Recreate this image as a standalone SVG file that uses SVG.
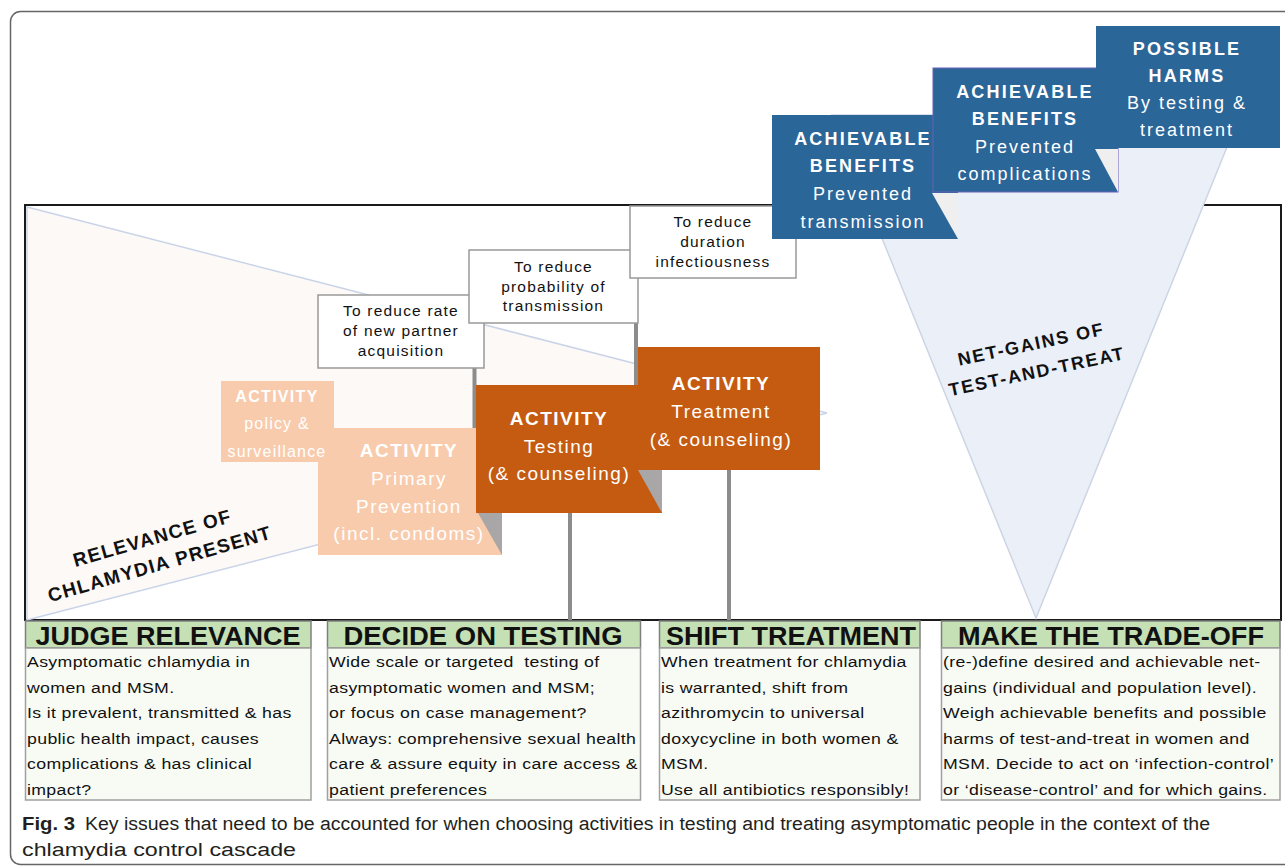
<svg xmlns="http://www.w3.org/2000/svg" width="1285" height="868" viewBox="0 0 1285 868">
<style>
text{font-family:"Liberation Sans",Arial,sans-serif}
.wbx{fill:#fff;stroke:#999;stroke-width:1.5}
.wt{font-size:15.5px;fill:#111;letter-spacing:1.2px;text-anchor:middle}
.peach{fill:#f8cbad}
.dark{fill:#c55a11}
.blue{fill:#2b6699}
.shadow{fill:#a8a6a6}
.lshadow{fill:#efefef}
.ab{font-size:19px;font-weight:bold;fill:#fff;letter-spacing:1.5px;text-anchor:middle}
.ar{font-size:19px;fill:#fff;letter-spacing:1.5px;text-anchor:middle}
.pb{font-size:16px;font-weight:bold;fill:#fff;letter-spacing:1.3px;text-anchor:middle}
.pr{font-size:16px;fill:#fff;letter-spacing:1.2px;text-anchor:middle}
.bb{font-size:18px;font-weight:bold;fill:#fff;letter-spacing:2.2px;text-anchor:middle}
.br{font-size:18px;fill:#fff;letter-spacing:2px;text-anchor:middle}
.hdr{fill:#c5e0b4;stroke:#7f7f7f;stroke-width:1.5}
.ht{font-size:26px;font-weight:bold;fill:#111;text-anchor:middle}
.body{fill:#f8fbf4;stroke:#a0a0a0;stroke-width:1.5}
.bt{font-size:15px;fill:#111;letter-spacing:0.3px;white-space:pre}
.rot{font-size:19px;font-weight:bold;fill:#111;letter-spacing:1.4px;text-anchor:middle}
.rot2{font-size:18px;font-weight:bold;fill:#111;letter-spacing:1.8px;text-anchor:middle}
.conn{stroke:#8c8c8c;stroke-width:4;fill:none}
.cap{font-size:18px;fill:#231f20}
</style>

<!-- outer frame -->
<rect x="10.5" y="11.5" width="1290" height="853" rx="10" fill="#fff" stroke="#666" stroke-width="1.5"/>

<!-- main panel -->
<rect x="25" y="205" width="1256" height="415" fill="#fff" stroke="#1a1a1a" stroke-width="2"/>

<!-- relevance triangle -->
<g id="relevance">
<polygon points="27,207 827,413 27,620" fill="#fdf9f6" stroke="#c9d4e8" stroke-width="1.5"/>
<g transform="translate(156,551) rotate(-16)">
<text class="rot" x="0" y="-7">RELEVANCE OF</text>
<text class="rot" x="0" y="20">CHLAMYDIA PRESENT</text>
</g>
</g>

<!-- net gains triangle -->
<g id="netgains">
<polygon points="832,115 1240,115 1036,618" fill="#eaeff8" stroke="#cdd5e5" stroke-width="1.5"/>
<g transform="translate(1034,358) rotate(-12)">
<text class="rot2" x="0" y="-8">NET-GAINS OF</text>
<text class="rot2" x="0" y="20">TEST-AND-TREAT</text>
</g>
</g>

<!-- connectors -->
<g id="connectors">
<line class="conn" x1="474.5" y1="368" x2="474.5" y2="432"/>
<line class="conn" x1="636" y1="323" x2="636" y2="387"/>
<line class="conn" x1="570" y1="512" x2="570" y2="620"/>
<line class="conn" x1="729" y1="469" x2="729" y2="620"/>
</g>

<!-- goal boxes -->
<g id="goal-partner">
<rect class="wbx" x="318" y="295" width="166" height="73"/>
<text class="wt" x="401" y="316">To reduce rate</text>
<text class="wt" x="401" y="336">of new partner</text>
<text class="wt" x="401" y="356">acquisition</text>
</g>
<g id="goal-transmission">
<rect class="wbx" x="469" y="250" width="169" height="73"/>
<text class="wt" x="553.5" y="272">To reduce</text>
<text class="wt" x="553.5" y="292">probability of</text>
<text class="wt" x="553.5" y="311">transmission</text>
</g>
<g id="goal-duration">
<rect class="wbx" x="630" y="206" width="166" height="72"/>
<text class="wt" x="713" y="227">To reduce</text>
<text class="wt" x="713" y="247">duration</text>
<text class="wt" x="713" y="267">infectiousness</text>
</g>

<!-- activity boxes -->
<g id="act-prevention">
<rect class="peach" x="318" y="428" width="184" height="127"/>
<polygon class="shadow" points="478,513 502,513 502,555"/>
<text class="ab" x="409" y="457">ACTIVITY</text>
<text class="ar" x="409" y="485">Primary</text>
<text class="ar" x="409" y="513">Prevention</text>
<text class="ar" x="409" y="540">(incl. condoms)</text>
</g>
<g id="act-policy">
<rect class="peach" x="221" y="381" width="113" height="81"/>
<text class="pb" x="277" y="402">ACTIVITY</text>
<text class="pr" x="277" y="429">policy &amp;</text>
<text class="pr" x="277" y="457">surveillance</text>
</g>
<g id="act-testing">
<rect class="dark" x="476" y="385" width="186" height="128"/>
<polygon class="shadow" points="638,470 662,470 662,513"/>
<text class="ab" x="559" y="425">ACTIVITY</text>
<text class="ar" x="559" y="453">Testing</text>
<text class="ar" x="559" y="480">(&amp; counseling)</text>
</g>
<g id="act-treatment">
<rect class="dark" x="638" y="347" width="182" height="123"/>
<text class="ab" x="721" y="390">ACTIVITY</text>
<text class="ar" x="721" y="418">Treatment</text>
<text class="ar" x="721" y="446">(&amp; counseling)</text>
</g>

<!-- benefit / harm boxes -->
<g id="benefit-transmission">
<rect class="blue" x="772" y="115" width="186" height="124"/>
<polygon class="lshadow" points="932,193 958,193 958,239"/>
<text class="bb" x="863" y="145">ACHIEVABLE</text>
<text class="bb" x="863" y="172">BENEFITS</text>
<text class="br" x="863" y="200">Prevented</text>
<text class="br" x="863" y="228">transmission</text>
</g>
<g id="benefit-complications">
<rect class="blue" x="933" y="68" width="185" height="124" stroke="#6a5fb8" stroke-width="1"/>
<polygon class="lshadow" points="1095,149 1118,149 1118,192"/>
<text class="bb" x="1025" y="98">ACHIEVABLE</text>
<text class="bb" x="1025" y="125">BENEFITS</text>
<text class="br" x="1025" y="153">Prevented</text>
<text class="br" x="1025" y="180">complications</text>
</g>
<g id="harms">
<rect class="blue" x="1096" y="26" width="184" height="122"/>
<text class="bb" x="1187" y="55">POSSIBLE</text>
<text class="bb" x="1187" y="82">HARMS</text>
<text class="br" x="1187" y="109">By testing &amp;</text>
<text class="br" x="1187" y="136">treatment</text>
</g>

<!-- bottom sections -->
<g id="judge">
<rect class="hdr" x="25.5" y="621" width="285.5" height="27"/>
<rect class="body" x="25.5" y="648" width="285.5" height="152"/>
<text class="ht" x="168" y="645" textLength="265" lengthAdjust="spacingAndGlyphs">JUDGE RELEVANCE</text>
<text class="bt" transform="translate(27,667) scale(1.18,1)">Asymptomatic chlamydia in</text>
<text class="bt" transform="translate(27,693) scale(1.18,1)">women and MSM.</text>
<text class="bt" transform="translate(27,718) scale(1.18,1)">Is it prevalent, transmitted &amp; has</text>
<text class="bt" transform="translate(27,744) scale(1.18,1)">public health impact, causes</text>
<text class="bt" transform="translate(27,769) scale(1.18,1)">complications &amp; has clinical</text>
<text class="bt" transform="translate(27,795) scale(1.18,1)">impact?</text>
</g>
<g id="decide">
<rect class="hdr" x="327.5" y="621" width="313" height="27"/>
<rect class="body" x="327.5" y="648" width="313" height="152"/>
<text class="ht" x="483" y="645" textLength="279" lengthAdjust="spacingAndGlyphs">DECIDE ON TESTING</text>
<text class="bt" transform="translate(329,667) scale(1.18,1)" xml:space="preserve">Wide scale or targeted  testing of</text>
<text class="bt" transform="translate(329,693) scale(1.18,1)">asymptomatic women and MSM;</text>
<text class="bt" transform="translate(329,718) scale(1.18,1)">or focus on case management?</text>
<text class="bt" transform="translate(329,744) scale(1.18,1)">Always: comprehensive sexual health</text>
<text class="bt" transform="translate(329,769) scale(1.18,1)">care &amp; assure equity in care access &amp;</text>
<text class="bt" transform="translate(329,795) scale(1.18,1)">patient preferences</text>
</g>
<g id="shift">
<rect class="hdr" x="659.5" y="621" width="260.5" height="27"/>
<rect class="body" x="659.5" y="648" width="260.5" height="152"/>
<text class="ht" x="791" y="645" textLength="250" lengthAdjust="spacingAndGlyphs">SHIFT TREATMENT</text>
<text class="bt" transform="translate(661,667) scale(1.18,1)">When treatment for chlamydia</text>
<text class="bt" transform="translate(661,693) scale(1.18,1)">is warranted, shift from</text>
<text class="bt" transform="translate(661,718) scale(1.18,1)">azithromycin to universal</text>
<text class="bt" transform="translate(661,744) scale(1.18,1)">doxycycline in both women &amp;</text>
<text class="bt" transform="translate(661,769) scale(1.18,1)">MSM.</text>
<text class="bt" transform="translate(661,795) scale(1.18,1)">Use all antibiotics responsibly!</text>
</g>
<g id="tradeoff">
<rect class="hdr" x="941.5" y="621" width="338.5" height="27"/>
<rect class="body" x="941.5" y="648" width="338.5" height="152"/>
<text class="ht" x="1111" y="645" textLength="306" lengthAdjust="spacingAndGlyphs">MAKE THE TRADE-OFF</text>
<text class="bt" transform="translate(943,667) scale(1.18,1)">(re-)define desired and achievable net-</text>
<text class="bt" transform="translate(943,693) scale(1.18,1)">gains (individual and population level).</text>
<text class="bt" transform="translate(943,718) scale(1.18,1)">Weigh achievable benefits and possible</text>
<text class="bt" transform="translate(943,744) scale(1.18,1)">harms of test-and-treat in women and</text>
<text class="bt" transform="translate(943,769) scale(1.18,1)">MSM. Decide to act on ‘infection-control’</text>
<text class="bt" transform="translate(943,795) scale(1.18,1)">or ‘disease-control’ and for which gains.</text>
</g>

<!-- caption -->
<g id="caption">
<text class="cap" x="22" y="830" font-weight="bold" textLength="53" lengthAdjust="spacingAndGlyphs">Fig. 3</text>
<text class="cap" x="85" y="830" textLength="1125" lengthAdjust="spacingAndGlyphs">Key issues that need to be accounted for when choosing activities in testing and treating asymptomatic people in the context of the</text>
<text class="cap" x="22" y="856" textLength="274" lengthAdjust="spacingAndGlyphs">chlamydia control cascade</text>
</g>
</svg>
